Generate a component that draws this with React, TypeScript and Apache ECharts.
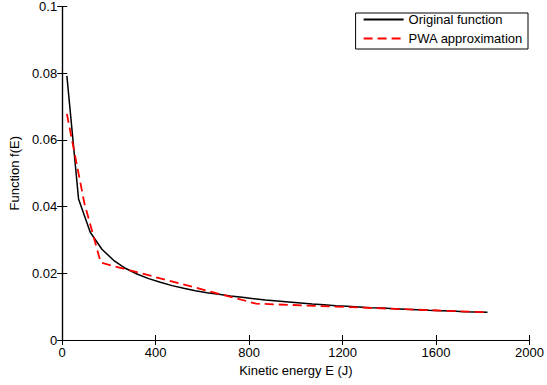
import React, { useEffect, useRef } from "react";
import * as echarts from "echarts";

const energyValues = [
  20, 70, 120, 170, 220, 270, 320, 370, 420, 470, 520, 570, 620, 670, 720, 770,
  820, 870, 920, 970, 1020, 1070, 1120, 1170, 1220, 1270, 1320, 1370, 1420,
  1470, 1520, 1570, 1620, 1670, 1720, 1770, 1820,
];
const originalValues = [
  0.0792, 0.0423, 0.0323, 0.0272, 0.0239, 0.0215, 0.0198, 0.0184, 0.0173,
  0.0163, 0.0155, 0.0148, 0.0142, 0.0137, 0.0132, 0.0128, 0.0124, 0.012,
  0.0117, 0.0114, 0.0111, 0.0108, 0.0106, 0.0103, 0.0101, 0.0099, 0.0097,
  0.0096, 0.0094, 0.0092, 0.0091, 0.0089, 0.0088, 0.0087, 0.0085, 0.0084,
  0.0083,
];
const pwaEnergy = [20, 95, 165, 830, 1820];
const pwaValues = [0.0678, 0.041, 0.0232, 0.0109, 0.0083];

const xTicks = [0, 400, 800, 1200, 1600, 2000];
const yTicks = [0, 0.02, 0.04, 0.06, 0.08, 0.1];

const FONT = "'Liberation Sans', Arial, Helvetica, sans-serif";

export default function App() {
  const ref = useRef<HTMLDivElement>(null);
  useEffect(() => {
    if (!ref.current) return;
    const chart = echarts.init(ref.current, undefined, { renderer: "svg" });
    const axisLine = { show: true, lineStyle: { color: "#000", width: 1.2 } };
    const tick = { show: true, inside: true, length: 5, lineStyle: { color: "#000", width: 1 } };
    const xCommon = {
      type: "value" as const,
      min: xTicks[0],
      max: xTicks[xTicks.length - 1],
      interval: xTicks[1] - xTicks[0],
      splitLine: { show: false },
      axisLine,
      axisTick: tick,
    };
    const yCommon = {
      type: "value" as const,
      min: yTicks[0],
      max: yTicks[yTicks.length - 1],
      interval: yTicks[1] - yTicks[0],
      splitLine: { show: false },
      axisLine,
      axisTick: tick,
    };
    chart.setOption({
      animation: false,
      backgroundColor: "#fff",
      textStyle: { fontFamily: FONT },
      grid: { left: 60, right: 12, top: 3.5, bottom: 45, containLabel: false },
      legend: {
        orient: "vertical",
        right: 19,
        top: 13,
        backgroundColor: "#fff",
        borderColor: "#000",
        borderWidth: 1,
        borderRadius: 0,
        padding: [0, 5, 4, 7],
        itemWidth: 40,
        itemHeight: 10,
        itemGap: 6,
        itemStyle: { opacity: 0 },
        lineStyle: { opacity: 1 },
        textStyle: { fontSize: 13, color: "#000", fontFamily: FONT, lineHeight: 10 },
        data: ["Original function", "PWA approximation"],
      },
      xAxis: [
        {
          ...xCommon,
          position: "bottom",
          name: "Kinetic energy E (J)",
          nameLocation: "middle",
          nameGap: 16,
          nameTextStyle: { fontSize: 13, color: "#000", fontFamily: FONT },
          axisLabel: {
            show: true,
            fontSize: 13,
            color: "#000",
            margin: 6,
            fontFamily: FONT,
            showMaxLabel: true,
            showMinLabel: true,
            formatter: (v: number) => String(v),
          },
        },
        {
          ...xCommon,
          position: "top",
          axisLabel: { show: false },
        },
      ],
      yAxis: [
        {
          ...yCommon,
          position: "left",
          name: "Function f(E)",
          nameLocation: "middle",
          nameGap: 34,
          nameRotate: 90,
          nameTextStyle: { fontSize: 13, color: "#000", fontFamily: FONT },
          axisLabel: {
            show: true,
            fontSize: 13,
            color: "#000",
            margin: 5,
            fontFamily: FONT,
            formatter: (v: number) => String(Math.round(v * 100) / 100),
          },
        },
        {
          ...yCommon,
          position: "right",
          axisLabel: { show: false },
        },
      ],
      series: [
        {
          name: "Original function",
          type: "line",
          xAxisIndex: 0,
          yAxisIndex: 0,
          symbol: "none",
          data: energyValues.map((e, i) => [e, originalValues[i]]),
          lineStyle: { color: "#000", width: 1.5 },
          itemStyle: { color: "#000" },
        },
        {
          name: "PWA approximation",
          type: "line",
          xAxisIndex: 0,
          yAxisIndex: 0,
          symbol: "none",
          data: pwaEnergy.map((e, i) => [e, pwaValues[i]]),
          lineStyle: { color: "#ff0000", width: 1.8, type: [9, 5] },
          itemStyle: { color: "#ff0000" },
        },
      ],
    });
    return () => chart.dispose();
  }, []);
  return (
    <div
      ref={ref}
      style={{ position: "fixed", left: 0, top: 0, width: 547, height: 385 }}
    />
  );
}
